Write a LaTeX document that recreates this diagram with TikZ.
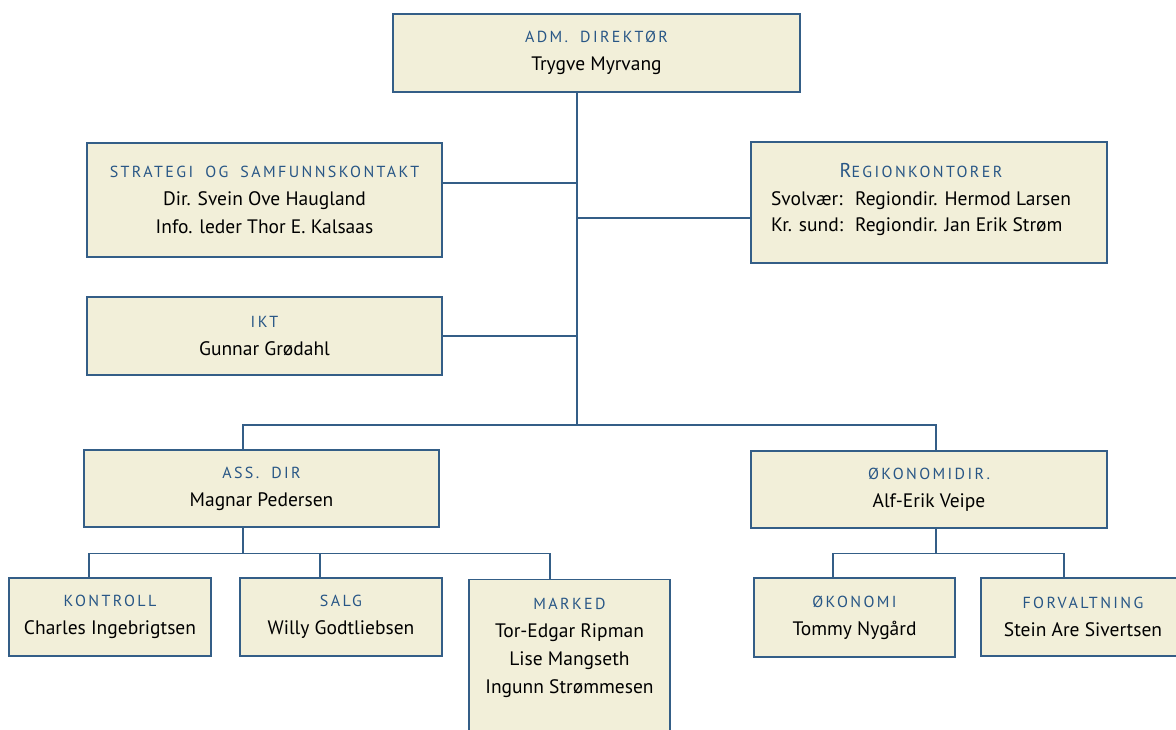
\documentclass[tikz,border=0pt]{standalone}
\usepackage{fontspec}
\setmainfont{PT Sans}
\newfontfamily\titlefont[LetterSpace=15,WordSpace=1.8]{PT Sans}
\usetikzlibrary{positioning}
\definecolor{boxfill}{RGB}{242,239,217}
\definecolor{lineblue}{RGB}{52,94,135}
\definecolor{titleblue}{RGB}{40,86,134}
\newcommand\unittitle[1]{{\color{titleblue}\titlefont\fontsize{16}{14}\selectfont#1}}

\begin{document}
\begin{tikzpicture}[x=1pt,y=-1pt,
    orgbox/.style={draw=lineblue, fill=boxfill, line width=1.2pt, align=center, inner sep=0pt,
      font=\fontsize{19.5}{28}\selectfont},
    conn/.style={draw=lineblue, line width=1.3pt}]
  \useasboundingbox (0,0) rectangle (1176,729);

  %%%%% BOXES %%%%%
  \node[orgbox, minimum width=407, minimum height=78] (dir) at (596.5,53)
    {\unittitle{ADM. DIREKTØR}\\Trygve Myrvang};
  \node[orgbox, minimum width=355, minimum height=114] (strategi) at (264.5,200)
    {\unittitle{STRATEGI OG SAMFUNNSKONTAKT}\\Dir. Svein Ove Haugland\\Info. leder Thor E. Kalsaas};
  \node[orgbox, minimum width=356, minimum height=121] (region) at (929,202.5)
    {\begin{tabular}{@{}l@{\hspace{12pt}}l@{}}
      \multicolumn{2}{c}{\unittitle{{\fontsize{20}{14}\selectfont R}EGIONKONTORER}}\\
      Svolvær: & Regiondir. Hermod Larsen\\[-2pt]
      Kr. sund: & Regiondir. Jan Erik Strøm\\[8pt]
    \end{tabular}\hspace*{16pt}};
  \node[orgbox, minimum width=355, minimum height=78] (ikt) at (264.5,336)
    {\unittitle{IKT}\\Gunnar Grødahl};
  \node[orgbox, minimum width=355, minimum height=77] (assdir) at (261.5,488.5)
    {\unittitle{ASS. DIR}\\Magnar Pedersen};
  \node[orgbox, minimum width=356, minimum height=77] (okdir) at (929,489.5)
    {\unittitle{ØKONOMIDIR.}\\Alf-Erik Veipe};

  \node[orgbox, minimum width=202, minimum height=78] (kontroll) at (110,617)
    {\unittitle{KONTROLL}\\Charles Ingebrigtsen};
  \node[orgbox, minimum width=202, minimum height=78] (salg) at (341,617)
    {\unittitle{SALG}\\Willy Godtliebsen};
  \node[orgbox, minimum width=201, minimum height=180, anchor=north] (marked) at (569.5,579) {};
  \node[align=center, inner sep=0pt, anchor=north, font=\fontsize{19.5}{28}\selectfont,
    below=19pt of marked.north] (markedtext)
    {\unittitle{MARKED}\\Tor-Edgar Ripman\\Lise Mangseth\\Ingunn Strømmesen};
  \node[orgbox, minimum width=201, minimum height=79] (okonomi) at (854.5,617.5)
    {\unittitle{ØKONOMI}\\Tommy Nygård};
  \node[orgbox, minimum width=204, minimum height=78] (forvaltning) at (1083,617)
    {\unittitle{FORVALTNING}\\Stein Are Sivertsen};

  %%%%% CONNECTORS %%%%%
  \coordinate (hub) at (577,425);
  \coordinate (strat-in) at ([yshift=17]strategi.east);
  \coordinate (region-in) at ([yshift=-15.5]region.west);
  \coordinate (assdir-top) at ([xshift=-18.5]assdir.north);
  \coordinate (okdir-top) at ([xshift=7]okdir.north);

  \draw[conn] (dir.south -| hub) -- (hub);
  \draw[conn] (strat-in) -- (strat-in -| hub);
  \draw[conn] (region-in) -- (region-in -| hub);
  \draw[conn] (ikt.east) -- (ikt.east -| hub);
  \draw[conn] (assdir-top) |- (hub) -| (okdir-top);

  \coordinate (assdir-out) at ([xshift=-18.5]assdir.south);
  \coordinate (assbar) at ([yshift=-26]assdir-out);
  \coordinate (kontroll-top) at ([xshift=-21]kontroll.north);
  \coordinate (salg-top) at ([xshift=-21]salg.north);
  \coordinate (marked-top) at ([xshift=-19.5]marked.north);
  \draw[conn] (assdir-out) -- (assbar);
  \draw[conn] (kontroll-top) |- (assbar) -| (marked-top);
  \draw[conn] (salg-top) -- (salg-top |- assbar);

  \coordinate (okdir-out) at ([xshift=7]okdir.south);
  \coordinate (okbar) at ([yshift=-25]okdir-out);
  \coordinate (okonomi-top) at ([xshift=-21.5]okonomi.north);
  \coordinate (forvaltning-top) at ([xshift=-19]forvaltning.north);
  \draw[conn] (okdir-out) -- (okbar);
  \draw[conn] (okonomi-top) |- (okbar) -| (forvaltning-top);
\end{tikzpicture}
\end{document}
